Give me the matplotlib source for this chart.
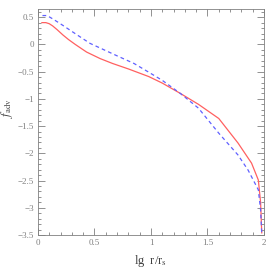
import matplotlib
matplotlib.use("Agg")
import matplotlib.pyplot as plt
from matplotlib.ticker import MultipleLocator

# red solid curve
x_red = [0.035, 0.07, 0.1, 0.13, 0.17, 0.22, 0.27, 0.33, 0.43, 0.55, 0.66, 0.8, 0.98,
         1.1, 1.26, 1.42, 1.6, 1.77, 1.89, 1.95, 1.97, 1.98]
y_red = [0.40, 0.40, 0.38, 0.34, 0.27, 0.175, 0.09, 0.0, -0.14, -0.26, -0.35, -0.45,
         -0.59, -0.71, -0.90, -1.10, -1.36, -1.81, -2.18, -2.49, -2.9, -3.46]

# blue dashed curve
x_blue = [0.04, 0.08, 0.13, 0.22, 0.35, 0.46, 0.69, 0.85, 0.98, 1.1, 1.26, 1.42, 1.6,
          1.77, 1.86, 1.95, 1.97, 1.98]
y_blue = [0.53, 0.53, 0.47, 0.35, 0.17, 0.02, -0.20, -0.35, -0.51, -0.66, -0.90, -1.17,
          -1.63, -2.03, -2.31, -2.67, -3.04, -3.46]

grey = "#808080"
plt.rcParams["font.family"] = ["Liberation Serif", "DejaVu Serif"]
plt.rcParams["mathtext.fontset"] = "stix"

fig = plt.figure(figsize=(2.73, 2.73), dpi=100)
ax = fig.add_axes([0.139, 0.139, 0.828, 0.828])

ax.plot(x_red, y_red, color="#ff6060", lw=0.9)
ax.plot(x_blue, y_blue, color="#6060ff", lw=0.9, ls=(0, (3, 2.5)))

ax.set_xlim(0, 2)
ax.set_ylim(-3.5, 0.65)
ax.xaxis.set_major_locator(MultipleLocator(0.5))
ax.xaxis.set_minor_locator(MultipleLocator(0.1))
ax.yaxis.set_major_locator(MultipleLocator(0.5))
ax.yaxis.set_minor_locator(MultipleLocator(0.1))

ax.set_xticks([0, 0.5, 1, 1.5, 2])
ax.set_xticklabels(["0", "0.5", "1", "1.5", "2"])
yt = [0.5, 0, -0.5, -1, -1.5, -2, -2.5, -3, -3.5]
ax.set_yticks(yt)
ax.set_yticklabels(["0.5", "0", "\u22120.5", "\u22121", "\u22121.5", "\u22122",
                    "\u22122.5", "\u22123", "\u22123.5"])

ax.tick_params(which="both", direction="in", top=True, right=True, colors=grey,
               labelsize=6.5, width=0.6)
ax.tick_params(which="major", length=5, pad=3)
ax.tick_params(which="minor", length=2.5)
for s in ax.spines.values():
    s.set_color(grey)
    s.set_linewidth(0.6)

ax.set_xlabel(r"lg  r/r$_\mathrm{s}$", fontsize=9, color="#404040", labelpad=4)
ax.set_ylabel(r"$f_{\rm adv}$", fontsize=9, color="#404040", labelpad=0)
ax.yaxis.set_label_coords(-0.1, 0.56)

fig.savefig("out.png", dpi=100)
